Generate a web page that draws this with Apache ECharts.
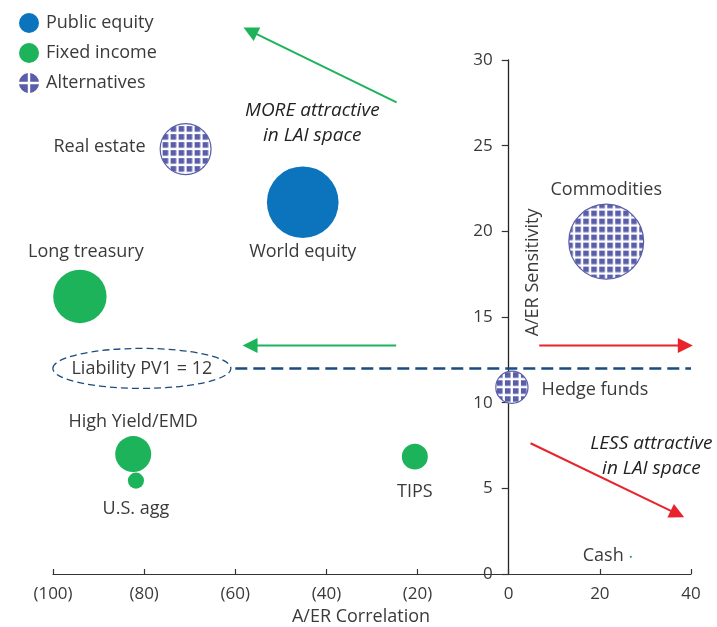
<!DOCTYPE html>
<html>
<head>
<meta charset="utf-8">
<script src="https://cdn.jsdelivr.net/npm/echarts@6/dist/echarts.min.js"></script>
<style>
  html, body { margin: 0; padding: 0; background: #fff; }
  #main { width: 717px; height: 627px; }
</style>
</head>
<body>
<div id="main"></div>
<script>
// Asset classes: A/ER correlation (x), A/ER sensitivity (y), relative bubble size
const equityNames = ['World equity'];
const equityCorr  = [-45.2];
const equitySens  = [21.7];
const equitySize  = [99];

const fixedNames = ['Long treasury', 'High Yield/EMD', 'U.S. agg', 'TIPS', 'Cash'];
const fixedCorr  = [-94.1, -82.4, -81.8, -20.6, 26.8];
const fixedSens  = [16.2, 7.0, 5.45, 6.85, 1.0];
const fixedSize  = [55, 25, 5, 13, 0.1];

const altNames = ['Real estate', 'Commodities', 'Hedge funds'];
const altCorr  = [-70.9, 21.4, 0.7];
const altSens  = [24.8, 19.4, 10.9];
const altSize  = [50, 108, 20];

const liabilityPV1 = 12;

const xMin = -100, xMax = 40, xStep = 20;
const yMin = 0, yMax = 30, yStep = 5;

const FONT = '"Open Sans", "Noto Sans", sans-serif';
const TEXT = '#3a3a3a';
const BLUE = '#0b74bd';
const GREEN = '#1db35b';
const PURPLE = '#5a5ea9';
const RED = '#e8232b';
const NAVY = '#1c4c7c';
const GRID_LEFT = 53;

// where each bubble's name sits relative to the bubble: [position, distance, dx, dy]
const labelPlacement = {
  'World equity':   ['bottom', 5, 0, 0],
  'Long treasury':  ['top', 9, 6, 0],
  'High Yield/EMD': ['top', 5, 0, 0],
  'U.S. agg':       ['bottom', 11, 0, 0],
  'TIPS':           ['bottom', 13, 0, 0],
  'Cash':           ['left', 6, 0, -1],
  'Real estate':    ['left', 14, 0, -2],
  'Commodities':    ['top', 5, 0, 0],
  'Hedge funds':    ['right', 13, 0, 3]
};

const bubbleDiameter = v => 7.2 * Math.sqrt(v[2]);

// square-grid fill used for the alternatives bubbles
function gridPattern(color) {
  const c = document.createElement('canvas');
  c.width = 8; c.height = 8;
  const g = c.getContext('2d');
  g.fillStyle = '#ffffff';
  g.fillRect(0, 0, 8, 8);
  g.fillStyle = color;
  g.fillRect(1, 1, 5.6, 5.6);
  return c;
}
const altTile = gridPattern(PURPLE);

function points(names, xs, ys, sizes, patterned) {
  return names.map((n, i) => {
    const value = [xs[i], ys[i], sizes[i]];
    const place = labelPlacement[n];
    const item = {
      name: n,
      value: value,
      label: { position: place[0], distance: place[1], offset: [place[2], place[3]] }
    };
    if (patterned) {
      // symbols are unit paths scaled to their size, so scale the tile back down
      const k = 2 / bubbleDiameter(value);
      item.itemStyle = { color: { image: altTile, repeat: 'repeat', scaleX: k, scaleY: k } };
    }
    return item;
  });
}

const labelStyle = {
  show: true,
  formatter: '{b}',
  color: TEXT,
  fontFamily: FONT,
  fontSize: 18
};

const chart = echarts.init(document.getElementById('main'), null, { renderer: 'canvas' });

chart.setOption({
  animation: false,
  backgroundColor: '#ffffff',
  textStyle: { fontFamily: FONT },
  grid: { left: GRID_LEFT, right: 26, top: 60, bottom: 53, containLabel: false, outerBoundsMode: 'none' },
  legend: {
    orient: 'vertical',
    left: 14,
    top: 8,
    itemWidth: 20,
    itemHeight: 20,
    itemGap: 10,
    textStyle: { color: TEXT, fontSize: 18, fontFamily: FONT, lineHeight: 20, padding: [0, 0, 0, 2] },
    data: [
      { name: 'Public equity', icon: 'circle' },
      { name: 'Fixed income', icon: 'circle' },
      {
        name: 'Alternatives',
        icon: 'path://M8.8,8.8L8.8,0.072A10,10,0,0,0,0.072,8.8Z M11.2,8.8L19.928,8.8A10,10,0,0,0,11.2,0.072Z M11.2,11.2L11.2,19.928A10,10,0,0,0,19.928,11.2Z M8.8,11.2L0.072,11.2A10,10,0,0,0,8.8,19.928Z',
        itemStyle: { color: PURPLE, borderWidth: 0 }
      }
    ],
    selectedMode: false
  },
  xAxis: {
    type: 'value',
    min: xMin, max: xMax, interval: xStep,
    name: 'A/ER Correlation',
    nameLocation: 'middle',
    nameGap: 33,
    nameTextStyle: { color: TEXT, fontSize: 18, fontFamily: FONT, padding: [0, 22, 0, 0] },
    axisLine: { onZero: false, lineStyle: { color: '#333', width: 1.2 } },
    axisTick: { show: true, inside: true, length: 5, lineStyle: { color: '#333', width: 1.2 } },
    axisLabel: {
      color: TEXT, fontSize: 17, fontFamily: FONT, margin: 12,
      formatter: v => v < 0 ? '(' + (-v) + ')' : String(v)
    },
    splitLine: { show: false }
  },
  yAxis: {
    type: 'value',
    min: yMin, max: yMax, interval: yStep,
    axisLine: { onZero: false, lineStyle: { color: '#222', width: 1.3 } },
    axisTick: { show: true, inside: false, length: 7, lineStyle: { color: '#333', width: 1.2 } },
    axisLabel: { color: TEXT, fontSize: 17, fontFamily: FONT, margin: 16 },
    splitLine: { show: false }
  },
  series: [
    {
      name: 'Public equity',
      type: 'scatter',
      data: points(equityNames, equityCorr, equitySens, equitySize, false),
      symbolSize: bubbleDiameter,
      itemStyle: { color: BLUE, opacity: 1 },
      label: labelStyle,
      emphasis: { disabled: true }
    },
    {
      name: 'Fixed income',
      type: 'scatter',
      data: points(fixedNames, fixedCorr, fixedSens, fixedSize, false),
      symbolSize: bubbleDiameter,
      itemStyle: { color: GREEN, opacity: 1 },
      label: labelStyle,
      emphasis: { disabled: true },
      markLine: {
        silent: true,
        symbol: ['none', 'none'],
        label: { show: false },
        lineStyle: { color: NAVY, width: 2.5, type: [12, 6] },
        data: [[{ coord: [-60, liabilityPV1] }, { coord: [xMax, liabilityPV1] }]]
      }
    },
    {
      name: 'Alternatives',
      type: 'scatter',
      data: points(altNames, altCorr, altSens, altSize, true),
      symbolSize: bubbleDiameter,
      itemStyle: {
        color: PURPLE,
        borderColor: PURPLE,
        borderWidth: 1.2,
        opacity: 1
      },
      label: labelStyle,
      emphasis: { disabled: true }
    }
  ]
});

function px(x, y) { return chart.convertToPixel({ gridIndex: 0 }, [x, y]); }

// the sensitivity axis crosses the correlation axis at zero
chart.setOption({ yAxis: { offset: GRID_LEFT - px(0, 0)[0] } });

// annotations: direction arrows, captions, liability callout, y-axis title
function arrow(from, to, color) {
  const a = px(from[0], from[1]);
  const b = px(to[0], to[1]);
  const dx = b[0] - a[0], dy = b[1] - a[1];
  const len = Math.sqrt(dx * dx + dy * dy);
  const ux = dx / len, uy = dy / len;
  const nx = -uy, ny = ux;
  const head = 15, half = 7.5;
  const bx = b[0] - ux * head, by = b[1] - uy * head;
  return {
    type: 'group',
    children: [
      {
        type: 'line',
        shape: { x1: a[0], y1: a[1], x2: bx + ux * 2, y2: by + uy * 2 },
        style: { stroke: color, lineWidth: 2 }
      },
      {
        type: 'polygon',
        shape: { points: [[b[0], b[1]], [bx + nx * half, by + ny * half], [bx - nx * half, by - ny * half]] },
        style: { fill: color }
      }
    ]
  };
}

function caption(x, y, text) {
  const p = px(x, y);
  return {
    type: 'text',
    x: p[0], y: p[1],
    style: {
      text: text,
      fill: '#222',
      font: 'italic 19px ' + FONT,
      align: 'center',
      verticalAlign: 'middle',
      lineHeight: 25
    }
  };
}

const calloutCenter = px(-80.5, liabilityPV1);
const yTitle = px(5.4, 17.6);

chart.setOption({
  graphic: [
    arrow([-24.6, 27.53], [-58.2, 31.89], GREEN),
    arrow([-24.7, 13.33], [-58.4, 13.33], GREEN),
    arrow([6.7, 13.33], [40.4, 13.33], RED),
    arrow([4.8, 7.63], [38.5, 3.31], RED),
    caption(-43.1, 26.3, 'MORE attractive\nin LAI space'),
    caption(31.3, 6.9, 'LESS attractive\nin LAI space'),
    {
      type: 'ellipse',
      shape: { cx: calloutCenter[0], cy: calloutCenter[1], rx: 89, ry: 20 },
      style: { fill: 'none', stroke: NAVY, lineWidth: 1.3, lineDash: [7, 4] }
    },
    {
      type: 'text',
      x: calloutCenter[0], y: calloutCenter[1],
      style: {
        text: 'Liability PV1 = ' + liabilityPV1,
        fill: TEXT, font: '18px ' + FONT,
        align: 'center', verticalAlign: 'middle'
      }
    },
    {
      type: 'text',
      x: yTitle[0], y: yTitle[1],
      rotation: Math.PI / 2,
      style: {
        text: 'A/ER Sensitivity',
        fill: TEXT, font: '18px ' + FONT,
        align: 'center', verticalAlign: 'middle'
      }
    }
  ]
});
</script>
</body>
</html>
